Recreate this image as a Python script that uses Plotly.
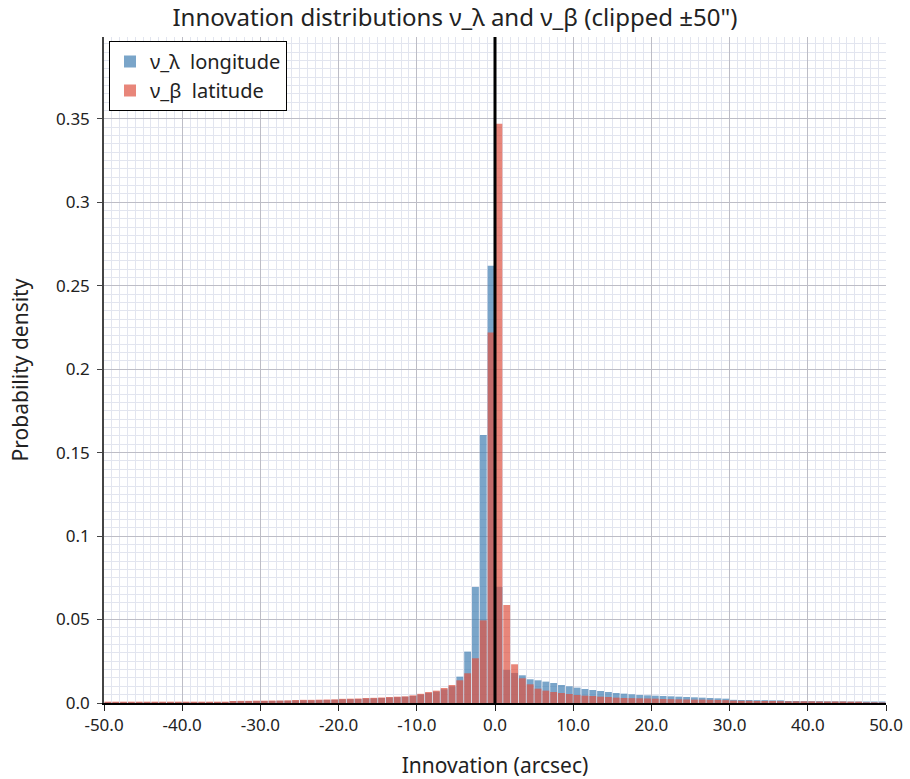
import plotly.graph_objects as go

# Histogram bins: 1 arcsec wide, from -50 to +50 (left edges listed)
bin_left = list(range(-50, 50))
bin_width = 1.0

# Probability density per bin, longitude innovation ν_λ
nu_lambda = [
    # -50 .. -41
    0.0005, 0.0005, 0.0005, 0.0005, 0.0005, 0.0005, 0.0005, 0.0005, 0.0005, 0.0005,
    # -40 .. -31
    0.0005, 0.0005, 0.0005, 0.0005, 0.0005, 0.0005, 0.0010, 0.0010, 0.0011, 0.0011,
    # -30 .. -21
    0.0012, 0.0012, 0.0013, 0.0013, 0.0015, 0.0016, 0.0016, 0.0017, 0.0018, 0.0019,
    # -20 .. -11
    0.0022, 0.0023, 0.0024, 0.0027, 0.0028, 0.0030, 0.0033, 0.0035, 0.0037, 0.0042,
    # -10 .. -1
    0.0050, 0.0060, 0.0068, 0.0082, 0.0100, 0.0158, 0.0308, 0.0695, 0.1605, 0.2620,
    # 0 .. 9
    0.0695, 0.0198, 0.0180, 0.0166, 0.0142, 0.0136, 0.0128, 0.0120, 0.0108, 0.0100,
    # 10 .. 19
    0.0092, 0.0084, 0.0078, 0.0072, 0.0066, 0.0060, 0.0056, 0.0052, 0.0048, 0.0046,
    # 20 .. 29
    0.0044, 0.0042, 0.0040, 0.0038, 0.0036, 0.0034, 0.0032, 0.0030, 0.0028, 0.0026,
    # 30 .. 39
    0.0019, 0.0018, 0.0018, 0.0017, 0.0017, 0.0016, 0.0016, 0.0012, 0.0012, 0.0011,
    # 40 .. 49
    0.0011, 0.0011, 0.0010, 0.0010, 0.0010, 0.0009, 0.0009, 0.0009, 0.0009, 0.0009,
]

# Probability density per bin, latitude innovation ν_β
nu_beta = [
    # -50 .. -41
    0.0008, 0.0008, 0.0008, 0.0008, 0.0008, 0.0008, 0.0008, 0.0008, 0.0008, 0.0008,
    # -40 .. -31
    0.0008, 0.0008, 0.0008, 0.0008, 0.0008, 0.0008, 0.0012, 0.0013, 0.0013, 0.0014,
    # -30 .. -21
    0.0014, 0.0015, 0.0015, 0.0016, 0.0018, 0.0019, 0.0019, 0.0020, 0.0021, 0.0022,
    # -20 .. -11
    0.0025, 0.0026, 0.0027, 0.0030, 0.0031, 0.0033, 0.0036, 0.0038, 0.0040, 0.0046,
    # -10 .. -1
    0.0055, 0.0066, 0.0074, 0.0090, 0.0108, 0.0136, 0.0178, 0.0268, 0.0495, 0.2220,
    # 0 .. 9
    0.3470, 0.0587, 0.0232, 0.0148, 0.0112, 0.0086, 0.0074, 0.0066, 0.0060, 0.0054,
    # 10 .. 19
    0.0048, 0.0044, 0.0042, 0.0038, 0.0036, 0.0032, 0.0030, 0.0029, 0.0028, 0.0027,
    # 20 .. 29
    0.0026, 0.0024, 0.0023, 0.0022, 0.0021, 0.0020, 0.0020, 0.0019, 0.0018, 0.0017,
    # 30 .. 39
    0.0014, 0.0013, 0.0013, 0.0012, 0.0012, 0.0012, 0.0011, 0.0010, 0.0010, 0.0010,
    # 40 .. 49
    0.0010, 0.0009, 0.0009, 0.0009, 0.0009, 0.0008, 0.0008, 0.0004, 0.0004, 0.0003,
]

x_tick_vals = [-50, -40, -30, -20, -10, 0, 10, 20, 30, 40, 50]
x_tick_text = ["-50.0", "-40.0", "-30.0", "-20.0", "-10.0", "0.0",
               "10.0", "20.0", "30.0", "40.0", "50.0"]
y_tick_vals = [0.0, 0.05, 0.10, 0.15, 0.20, 0.25, 0.30, 0.35]
y_tick_text = ["0.0", "0.05", "0.1", "0.15", "0.2", "0.25", "0.3", "0.35"]

bin_centers = [b + bin_width / 2 for b in bin_left]

FONT = "Noto Sans, Open Sans, sans-serif"

fig = go.Figure()
fig.add_trace(go.Bar(
    x=bin_centers, y=nu_lambda, width=bin_width * 0.88,
    name="ν_λ\u00a0 longitude",
    marker=dict(color="rgba(70,130,180,0.72)", line=dict(width=0)),
))
fig.add_trace(go.Bar(
    x=bin_centers, y=nu_beta, width=bin_width * 0.88,
    name="ν_β\u00a0 latitude",
    marker=dict(color="rgba(222,82,66,0.70)", line=dict(width=0)),
))

# zero-innovation reference line
fig.add_shape(type="line", xref="x", yref="paper", x0=0, x1=0, y0=0, y1=1,
              line=dict(color="black", width=3), layer="above")

fig.update_layout(
    width=910, height=779,
    barmode="overlay",
    paper_bgcolor="white", plot_bgcolor="white",
    margin=dict(l=104, r=24, t=37, b=76),
    font=dict(family=FONT, size=17, color="#222"),
    title=dict(text="Innovation distributions ν_λ and ν_β (clipped ±50\")",
               x=0.5, xanchor="center", y=0.978, yanchor="middle",
               font=dict(size=24, color="#222")),
    showlegend=True,
    legend=dict(x=0.0064, y=0.994, xanchor="left", yanchor="top",
                bgcolor="white", bordercolor="black", borderwidth=1,
                font=dict(size=20, color="#222")),
)

fig.update_xaxes(
    range=[-50, 50], automargin=False,
    tickmode="array", tickvals=x_tick_vals, ticktext=x_tick_text,
    ticks="outside", ticklen=6, tickcolor="#222",
    showline=True, linecolor="black", linewidth=1.5,
    showgrid=True, gridcolor="#bdbdc6", gridwidth=1,
    minor=dict(tickmode="linear", tick0=0, dtick=1, showgrid=True,
               gridcolor="#e2e5ef", gridwidth=1, ticks=""),
    zeroline=False,
    title=dict(text="Innovation (arcsec)", font=dict(size=21), standoff=28),
)
fig.update_yaxes(
    range=[0, 0.399], automargin=False,
    tickmode="array", tickvals=y_tick_vals, ticktext=y_tick_text,
    ticks="outside", ticklen=5, tickcolor="#444", ticklabelstandoff=4,
    showline=True, linecolor="#444", linewidth=1.5,
    showgrid=True, gridcolor="#bdbdc6", gridwidth=1,
    minor=dict(tickmode="linear", tick0=0, dtick=0.005, showgrid=True,
               gridcolor="#e2e5ef", gridwidth=1, ticks=""),
    zeroline=False,
    title=dict(text="Probability density", font=dict(size=21), standoff=22),
)

fig.write_html("out.html")
